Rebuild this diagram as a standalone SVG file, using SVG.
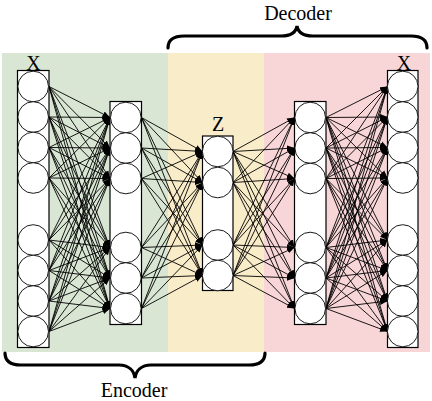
<svg xmlns="http://www.w3.org/2000/svg" width="432" height="401" viewBox="0 0 432 401">
<style>
.lay{fill:#fff;stroke:#000;stroke-width:1.2}
.nd{fill:#fff;stroke:#000;stroke-width:0.9}
.cn line{stroke:#000;stroke-width:0.9;marker-end:url(#ah)}
.lbl{font-family:"Liberation Serif","Times New Roman",serif;font-size:20px;fill:#000;text-anchor:middle}
.br{fill:none;stroke:#000;stroke-width:3.2;stroke-linecap:round}
</style>
<defs>
<marker id="ah" markerUnits="userSpaceOnUse" markerWidth="8" markerHeight="7" refX="7.5" refY="3.5" orient="auto">
<path d="M0,0.5 L7.5,3.5 L0,6.5 z" fill="#000"/>
</marker>
</defs>
<rect width="432" height="401" fill="#fff"/>
<g id="backgrounds">
<rect x="2" y="53" width="166" height="299" fill="#d9e6d3"/>
<rect x="168" y="53" width="96" height="299" fill="#f9ecc9"/>
<rect x="264" y="53" width="166" height="299" fill="#f8d6d8"/>
</g>
<g id="connectors" class="cn">
<line x1="49" y1="86.5" x2="110" y2="117.5"/><line x1="49" y1="117" x2="110" y2="117.5"/><line x1="49" y1="147.5" x2="110" y2="117.5"/><line x1="49" y1="178" x2="110" y2="117.5"/><line x1="49" y1="240" x2="110" y2="117.5"/><line x1="49" y1="270.5" x2="110" y2="117.5"/><line x1="49" y1="301" x2="110" y2="117.5"/><line x1="49" y1="331.5" x2="110" y2="117.5"/>
<line x1="49" y1="86.5" x2="110" y2="148"/><line x1="49" y1="117" x2="110" y2="148"/><line x1="49" y1="147.5" x2="110" y2="148"/><line x1="49" y1="178" x2="110" y2="148"/><line x1="49" y1="240" x2="110" y2="148"/><line x1="49" y1="270.5" x2="110" y2="148"/><line x1="49" y1="301" x2="110" y2="148"/><line x1="49" y1="331.5" x2="110" y2="148"/>
<line x1="49" y1="86.5" x2="110" y2="178.5"/><line x1="49" y1="117" x2="110" y2="178.5"/><line x1="49" y1="147.5" x2="110" y2="178.5"/><line x1="49" y1="178" x2="110" y2="178.5"/><line x1="49" y1="240" x2="110" y2="178.5"/><line x1="49" y1="270.5" x2="110" y2="178.5"/><line x1="49" y1="301" x2="110" y2="178.5"/><line x1="49" y1="331.5" x2="110" y2="178.5"/>
<line x1="49" y1="86.5" x2="110" y2="247.5"/><line x1="49" y1="117" x2="110" y2="247.5"/><line x1="49" y1="147.5" x2="110" y2="247.5"/><line x1="49" y1="178" x2="110" y2="247.5"/><line x1="49" y1="240" x2="110" y2="247.5"/><line x1="49" y1="270.5" x2="110" y2="247.5"/><line x1="49" y1="301" x2="110" y2="247.5"/><line x1="49" y1="331.5" x2="110" y2="247.5"/>
<line x1="49" y1="86.5" x2="110" y2="278"/><line x1="49" y1="117" x2="110" y2="278"/><line x1="49" y1="147.5" x2="110" y2="278"/><line x1="49" y1="178" x2="110" y2="278"/><line x1="49" y1="240" x2="110" y2="278"/><line x1="49" y1="270.5" x2="110" y2="278"/><line x1="49" y1="301" x2="110" y2="278"/><line x1="49" y1="331.5" x2="110" y2="278"/>
<line x1="49" y1="86.5" x2="110" y2="308.5"/><line x1="49" y1="117" x2="110" y2="308.5"/><line x1="49" y1="147.5" x2="110" y2="308.5"/><line x1="49" y1="178" x2="110" y2="308.5"/><line x1="49" y1="240" x2="110" y2="308.5"/><line x1="49" y1="270.5" x2="110" y2="308.5"/><line x1="49" y1="301" x2="110" y2="308.5"/><line x1="49" y1="331.5" x2="110" y2="308.5"/>
<line x1="141.5" y1="117.5" x2="202.5" y2="151.5"/><line x1="141.5" y1="148" x2="202.5" y2="151.5"/><line x1="141.5" y1="178.5" x2="202.5" y2="151.5"/><line x1="141.5" y1="247.5" x2="202.5" y2="151.5"/><line x1="141.5" y1="278" x2="202.5" y2="151.5"/><line x1="141.5" y1="308.5" x2="202.5" y2="151.5"/>
<line x1="141.5" y1="117.5" x2="202.5" y2="182.5"/><line x1="141.5" y1="148" x2="202.5" y2="182.5"/><line x1="141.5" y1="178.5" x2="202.5" y2="182.5"/><line x1="141.5" y1="247.5" x2="202.5" y2="182.5"/><line x1="141.5" y1="278" x2="202.5" y2="182.5"/><line x1="141.5" y1="308.5" x2="202.5" y2="182.5"/>
<line x1="141.5" y1="117.5" x2="202.5" y2="245"/><line x1="141.5" y1="148" x2="202.5" y2="245"/><line x1="141.5" y1="178.5" x2="202.5" y2="245"/><line x1="141.5" y1="247.5" x2="202.5" y2="245"/><line x1="141.5" y1="278" x2="202.5" y2="245"/><line x1="141.5" y1="308.5" x2="202.5" y2="245"/>
<line x1="141.5" y1="117.5" x2="202.5" y2="275.5"/><line x1="141.5" y1="148" x2="202.5" y2="275.5"/><line x1="141.5" y1="178.5" x2="202.5" y2="275.5"/><line x1="141.5" y1="247.5" x2="202.5" y2="275.5"/><line x1="141.5" y1="278" x2="202.5" y2="275.5"/><line x1="141.5" y1="308.5" x2="202.5" y2="275.5"/>
<line x1="233" y1="151.5" x2="294.5" y2="117.5"/><line x1="233" y1="182.5" x2="294.5" y2="117.5"/><line x1="233" y1="245" x2="294.5" y2="117.5"/><line x1="233" y1="275.5" x2="294.5" y2="117.5"/>
<line x1="233" y1="151.5" x2="294.5" y2="148"/><line x1="233" y1="182.5" x2="294.5" y2="148"/><line x1="233" y1="245" x2="294.5" y2="148"/><line x1="233" y1="275.5" x2="294.5" y2="148"/>
<line x1="233" y1="151.5" x2="294.5" y2="178.5"/><line x1="233" y1="182.5" x2="294.5" y2="178.5"/><line x1="233" y1="245" x2="294.5" y2="178.5"/><line x1="233" y1="275.5" x2="294.5" y2="178.5"/>
<line x1="233" y1="151.5" x2="294.5" y2="247.5"/><line x1="233" y1="182.5" x2="294.5" y2="247.5"/><line x1="233" y1="245" x2="294.5" y2="247.5"/><line x1="233" y1="275.5" x2="294.5" y2="247.5"/>
<line x1="233" y1="151.5" x2="294.5" y2="278"/><line x1="233" y1="182.5" x2="294.5" y2="278"/><line x1="233" y1="245" x2="294.5" y2="278"/><line x1="233" y1="275.5" x2="294.5" y2="278"/>
<line x1="233" y1="151.5" x2="294.5" y2="308.5"/><line x1="233" y1="182.5" x2="294.5" y2="308.5"/><line x1="233" y1="245" x2="294.5" y2="308.5"/><line x1="233" y1="275.5" x2="294.5" y2="308.5"/>
<line x1="326" y1="117.5" x2="387.5" y2="86.5"/><line x1="326" y1="148" x2="387.5" y2="86.5"/><line x1="326" y1="178.5" x2="387.5" y2="86.5"/><line x1="326" y1="247.5" x2="387.5" y2="86.5"/><line x1="326" y1="278" x2="387.5" y2="86.5"/><line x1="326" y1="308.5" x2="387.5" y2="86.5"/>
<line x1="326" y1="117.5" x2="387.5" y2="117"/><line x1="326" y1="148" x2="387.5" y2="117"/><line x1="326" y1="178.5" x2="387.5" y2="117"/><line x1="326" y1="247.5" x2="387.5" y2="117"/><line x1="326" y1="278" x2="387.5" y2="117"/><line x1="326" y1="308.5" x2="387.5" y2="117"/>
<line x1="326" y1="117.5" x2="387.5" y2="147.5"/><line x1="326" y1="148" x2="387.5" y2="147.5"/><line x1="326" y1="178.5" x2="387.5" y2="147.5"/><line x1="326" y1="247.5" x2="387.5" y2="147.5"/><line x1="326" y1="278" x2="387.5" y2="147.5"/><line x1="326" y1="308.5" x2="387.5" y2="147.5"/>
<line x1="326" y1="117.5" x2="387.5" y2="178"/><line x1="326" y1="148" x2="387.5" y2="178"/><line x1="326" y1="178.5" x2="387.5" y2="178"/><line x1="326" y1="247.5" x2="387.5" y2="178"/><line x1="326" y1="278" x2="387.5" y2="178"/><line x1="326" y1="308.5" x2="387.5" y2="178"/>
<line x1="326" y1="117.5" x2="387.5" y2="240"/><line x1="326" y1="148" x2="387.5" y2="240"/><line x1="326" y1="178.5" x2="387.5" y2="240"/><line x1="326" y1="247.5" x2="387.5" y2="240"/><line x1="326" y1="278" x2="387.5" y2="240"/><line x1="326" y1="308.5" x2="387.5" y2="240"/>
<line x1="326" y1="117.5" x2="387.5" y2="270.5"/><line x1="326" y1="148" x2="387.5" y2="270.5"/><line x1="326" y1="178.5" x2="387.5" y2="270.5"/><line x1="326" y1="247.5" x2="387.5" y2="270.5"/><line x1="326" y1="278" x2="387.5" y2="270.5"/><line x1="326" y1="308.5" x2="387.5" y2="270.5"/>
<line x1="326" y1="117.5" x2="387.5" y2="301"/><line x1="326" y1="148" x2="387.5" y2="301"/><line x1="326" y1="178.5" x2="387.5" y2="301"/><line x1="326" y1="247.5" x2="387.5" y2="301"/><line x1="326" y1="278" x2="387.5" y2="301"/><line x1="326" y1="308.5" x2="387.5" y2="301"/>
<line x1="326" y1="117.5" x2="387.5" y2="331.5"/><line x1="326" y1="148" x2="387.5" y2="331.5"/><line x1="326" y1="178.5" x2="387.5" y2="331.5"/><line x1="326" y1="247.5" x2="387.5" y2="331.5"/><line x1="326" y1="278" x2="387.5" y2="331.5"/><line x1="326" y1="308.5" x2="387.5" y2="331.5"/>
</g>
<g id="input-layer">
<rect class="lay" x="17.5" y="70.5" width="31.5" height="277"/>
<circle class="nd" cx="33.2" cy="86.5" r="15.3"/><circle class="nd" cx="33.2" cy="117" r="15.3"/><circle class="nd" cx="33.2" cy="147.5" r="15.3"/><circle class="nd" cx="33.2" cy="178" r="15.3"/>
<circle class="nd" cx="33.2" cy="240" r="15.3"/><circle class="nd" cx="33.2" cy="270.5" r="15.3"/><circle class="nd" cx="33.2" cy="301" r="15.3"/><circle class="nd" cx="33.2" cy="331.5" r="15.3"/>
<text class="lbl" x="33.5" y="69.5">X</text>
</g>
<g id="hidden-layer-1">
<rect class="lay" x="110" y="101.5" width="31.5" height="223"/>
<circle class="nd" cx="125.8" cy="117.5" r="15.3"/><circle class="nd" cx="125.8" cy="148" r="15.3"/><circle class="nd" cx="125.8" cy="178.5" r="15.3"/>
<circle class="nd" cx="125.8" cy="247.5" r="15.3"/><circle class="nd" cx="125.8" cy="278" r="15.3"/><circle class="nd" cx="125.8" cy="308.5" r="15.3"/>
</g>
<g id="latent-layer">
<rect class="lay" x="202.5" y="136" width="30.5" height="154.5"/>
<circle class="nd" cx="217.7" cy="151.5" r="15.3"/><circle class="nd" cx="217.7" cy="182.5" r="15.3"/>
<circle class="nd" cx="217.7" cy="245" r="15.3"/><circle class="nd" cx="217.7" cy="275.5" r="15.3"/>
<text class="lbl" x="218" y="131">Z</text>
</g>
<g id="hidden-layer-2">
<rect class="lay" x="294.5" y="101.5" width="31.5" height="223"/>
<circle class="nd" cx="310.2" cy="117.5" r="15.3"/><circle class="nd" cx="310.2" cy="148" r="15.3"/><circle class="nd" cx="310.2" cy="178.5" r="15.3"/>
<circle class="nd" cx="310.2" cy="247.5" r="15.3"/><circle class="nd" cx="310.2" cy="278" r="15.3"/><circle class="nd" cx="310.2" cy="308.5" r="15.3"/>
</g>
<g id="output-layer">
<rect class="lay" x="387.5" y="70.5" width="30.5" height="277"/>
<circle class="nd" cx="402.7" cy="86.5" r="15.3"/><circle class="nd" cx="402.7" cy="117" r="15.3"/><circle class="nd" cx="402.7" cy="147.5" r="15.3"/><circle class="nd" cx="402.7" cy="178" r="15.3"/>
<circle class="nd" cx="402.7" cy="240" r="15.3"/><circle class="nd" cx="402.7" cy="270.5" r="15.3"/><circle class="nd" cx="402.7" cy="301" r="15.3"/><circle class="nd" cx="402.7" cy="331.5" r="15.3"/>
<text class="lbl" x="404" y="69.5">X</text>
</g>
<g id="decoder-brace">
<path class="br" d="M168,48 C168,39 174,36 184,36 L281,36 C291,36 296,32 297,26 C298,32 303,36 313,36 L411,36 C421,36 427,39 427,48"/>
<text class="lbl" x="298" y="19.5">Decoder</text>
</g>
<g id="encoder-brace">
<path class="br" d="M5,353 C5,362 11,365 21,365 L119,365 C129,365 134,371 135,378 C136,371 141,365 151,365 L249,365 C259,365 265,362 265,353"/>
<text class="lbl" x="134" y="396.5">Encoder</text>
</g>
</svg>
